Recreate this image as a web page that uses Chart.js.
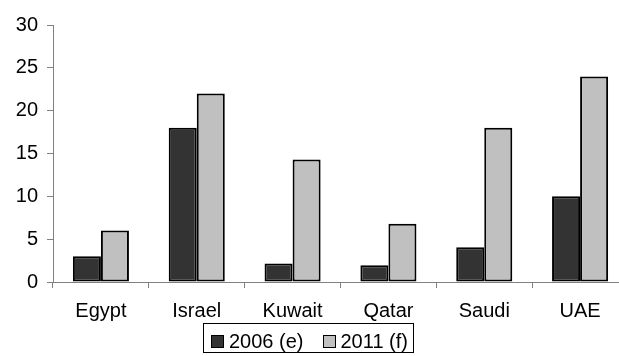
<!DOCTYPE html>
<html>
<head>
<meta charset="utf-8">
<script src="https://cdn.jsdelivr.net/npm/chart.js@4.4.1/dist/chart.umd.min.js"></script>
<style>
  html, body { margin: 0; padding: 0; background: #fff; overflow: hidden; }
  #wrap { position: relative; width: 632px; height: 356px; }
  #legend {
    position: absolute; left: 203px; top: 323px;
    box-sizing: border-box; width: 211px; height: 30px;
    border: 1px solid #000; padding: 3px 0 0 7px;
    font-family: 'Liberation Sans', Arial, sans-serif; font-size: 20px;
    line-height: 28px; white-space: nowrap; color: #000;
  }
  #legend .sw {
    display: inline-block; width: 11px; height: 11px;
    border: 1px solid #000; margin-right: 5px; vertical-align: baseline;
  }
  #legend .item + .item { margin-left: 19px; }
</style>
</head>
<body>
<div id="wrap"><canvas id="chart"></canvas><div id="legend"></div></div>
<script>
const categories = ['Egypt', 'Israel', 'Kuwait', 'Qatar', 'Saudi', 'UAE'];
const values2006 = [3, 18, 2.15, 1.95, 4.05, 10];
const values2011 = [6, 22, 14.3, 6.8, 18, 24];
const seriesNames = ['2006 (e)', '2011 (f)'];
const yTicks = [0, 5, 10, 15, 20, 25, 30];

const fontFamily = 'Liberation Sans, Arial, sans-serif';

const ctx = document.getElementById('chart').getContext('2d');
const chart = new Chart(ctx, {
    type: 'bar',
    data: {
        labels: categories,
        datasets: [{
            label: seriesNames[0],
            data: values2006,
            backgroundColor: '#333333',
            borderColor: '#000',
            borderWidth: 2,
            borderSkipped: false
        }, {
            label: seriesNames[1],
            data: values2011,
            backgroundColor: '#c0c0c0',
            borderColor: '#000',
            borderWidth: 2,
            borderSkipped: false
        }]
    },
    options: {
        responsive: true,
        maintainAspectRatio: false,
        animation: false,
        layout: {
            padding: { top: 25, right: 4, bottom: 34, left: 0 }
        },
        datasets: {
            bar: { categoryPercentage: 0.585, barPercentage: 1.0 }
        },
        scales: {
            x: {
                grid: {
                    display: true,
                    drawOnChartArea: false,
                    drawTicks: true,
                    tickLength: 6,
                    color: '#808080'
                },
                border: { display: true, color: '#808080', width: 1 },
                ticks: {
                    color: '#000',
                    padding: 11,
                    font: { family: fontFamily, size: 20 }
                },
                afterFit(scale) { scale.height = 40; }
            },
            y: {
                min: yTicks[0],
                max: yTicks[yTicks.length - 1],
                afterBuildTicks(scale) { scale.ticks = yTicks.map(v => ({ value: v })); },
                ticks: {
                    color: '#000',
                    padding: 9,
                    font: { family: fontFamily, size: 20 }
                },
                grid: {
                    display: true,
                    drawOnChartArea: false,
                    drawTicks: true,
                    tickLength: 6,
                    color: '#808080'
                },
                border: { display: true, color: '#808080', width: 1 },
                afterFit(scale) { scale.width = 53; }
            }
        },
        plugins: {
            legend: { display: false },
            tooltip: { enabled: false }
        }
    }
});

// bordered legend under the axis, built from the datasets
const legendEl = document.getElementById('legend');
chart.data.datasets.forEach(ds => {
    const item = document.createElement('span');
    item.className = 'item';
    const sw = document.createElement('span');
    sw.className = 'sw';
    sw.style.background = ds.backgroundColor;
    item.appendChild(sw);
    item.appendChild(document.createTextNode(ds.label));
    legendEl.appendChild(item);
});
</script>
</body>
</html>
